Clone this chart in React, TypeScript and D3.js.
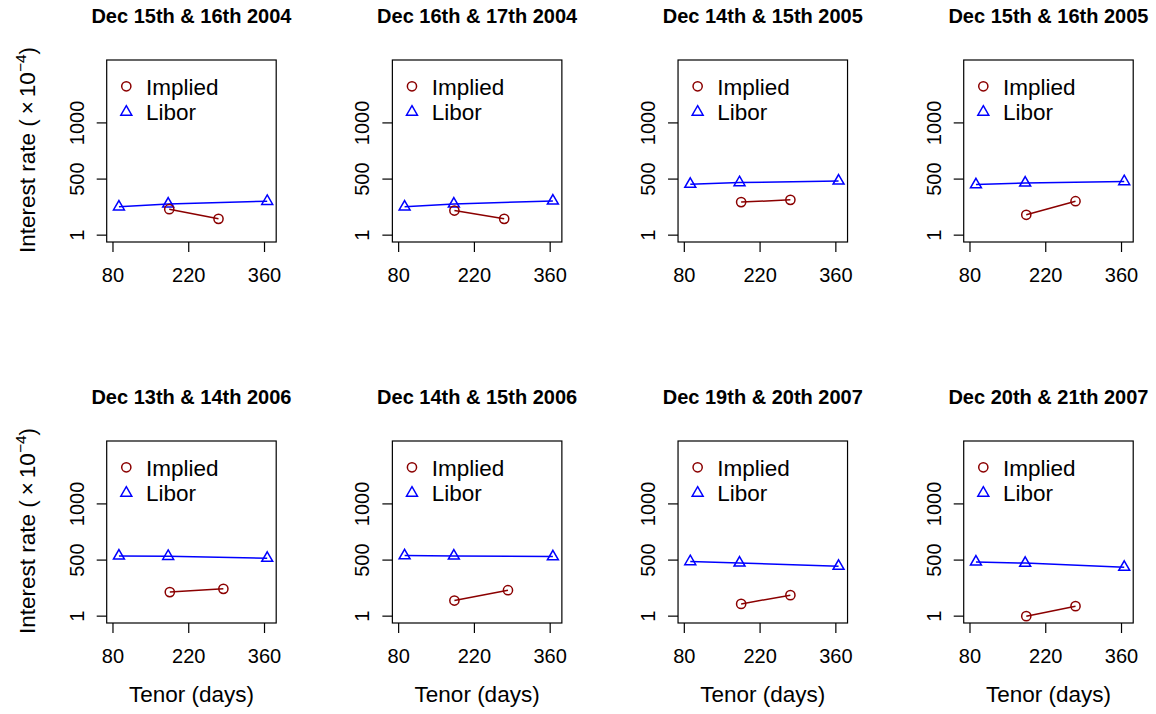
import React from "react";
import * as d3 from "d3";

const panelTitles = [
  "Dec 15th & 16th 2004",
  "Dec 16th & 17th 2004",
  "Dec 14th & 15th 2005",
  "Dec 15th & 16th 2005",
  "Dec 13th & 14th 2006",
  "Dec 14th & 15th 2006",
  "Dec 19th & 20th 2007",
  "Dec 20th & 21th 2007",
];
const liborTenor = [91, 182, 365];
const impliedTenor = [
  [184, 275],
  [183, 275],
  [185, 276],
  [184, 275],
  [185, 284],
  [183, 282],
  [185, 276],
  [184, 275],
];
const liborRates = [
  [253, 279, 303],
  [253, 279, 306],
  [455, 469, 484],
  [451, 466, 478],
  [537, 534, 517],
  [540, 537, 531],
  [487, 475, 446],
  [484, 473, 437],
];
const impliedRates = [
  [232, 146],
  [220, 146],
  [295, 315],
  [182, 303],
  [215, 244],
  [140, 232],
  [110, 188],
  [1, 90],
];
const xTicks = [80, 220, 360];
const yTicks = [1, 500, 1000];
const xDomain = [68.4, 381.6];
const yDomain = [-60, 1560];
const seriesNames = ["Implied", "Libor"];

const W = 1156;
const H = 714;
const colStep = 285.67;
const rowStep = 381;
const boxLeft0 = 106.7;
const boxTop0 = 60;
const boxW = 169.5;
const boxH = 182;
const FONT = "'Liberation Sans', Arial, Helvetica, sans-serif";
const RED = "#8B0000";
const BLUE = "#0000FF";
const LAB = 22.5;

const triPath = d3.symbol().type(d3.symbolTriangle).size(52)() as string;

function Panel({ idx }: { idx: number }) {
  const col = idx % 4;
  const row = Math.floor(idx / 4);
  const left = boxLeft0 + col * colStep;
  const top = boxTop0 + row * rowStep;
  const x = d3.scaleLinear().domain(xDomain).range([left, left + boxW]);
  const y = d3.scaleLinear().domain(yDomain).range([top + boxH, top]);
  const bottom = top + boxH;
  const libor = liborTenor.map((t, i) => [t, liborRates[idx][i]] as [number, number]);
  const implied = impliedTenor[idx].map((t, i) => [t, impliedRates[idx][i]] as [number, number]);
  const line = d3
    .line<[number, number]>()
    .x((d) => x(d[0]))
    .y((d) => y(d[1]));
  const cx = left + boxW / 2;
  return (
    <g>
      <text
        x={cx}
        y={top - 37}
        textAnchor="middle"
        fontWeight="bold"
        fontSize={20}
        fontFamily={FONT}
        fill="#000"
      >
        {panelTitles[idx]}
      </text>
      <rect x={left} y={top} width={boxW} height={boxH} fill="none" stroke="#000" strokeWidth={1.2} />
      {xTicks.map((t) => (
        <g key={"x" + t}>
          <line x1={x(t)} x2={x(t)} y1={bottom} y2={bottom + 10} stroke="#000" strokeWidth={1.2} />
          <text x={x(t)} y={bottom + 39.5} textAnchor="middle" fontSize={20} fontFamily={FONT}>
            {t}
          </text>
        </g>
      ))}
      {yTicks.map((t) => (
        <g key={"y" + t}>
          <line x1={left - 10} x2={left} y1={y(t)} y2={y(t)} stroke="#000" strokeWidth={1.2} />
          <text
            transform={`translate(${left - 23},${y(t)}) rotate(-90)`}
            textAnchor="middle"
            fontSize={20}
            fontFamily={FONT}
          >
            {t}
          </text>
        </g>
      ))}
      <path d={line(libor) as string} fill="none" stroke={BLUE} strokeWidth={1.5} />
      {libor.map((d, i) => (
        <path
          key={"l" + i}
          d={triPath}
          transform={`translate(${x(d[0])},${y(d[1])})`}
          fill="none"
          stroke={BLUE}
          strokeWidth={1.5}
        />
      ))}
      <path d={line(implied) as string} fill="none" stroke={RED} strokeWidth={1.5} />
      {implied.map((d, i) => (
        <circle key={"i" + i} cx={x(d[0])} cy={y(d[1])} r={4.6} fill="none" stroke={RED} strokeWidth={1.5} />
      ))}
      {/* legend */}
      <circle cx={left + 19.6} cy={top + 26.3} r={4.6} fill="none" stroke={RED} strokeWidth={1.5} />
      <text x={left + 39.3} y={top + 34.5} fontSize={LAB} fontFamily={FONT}>
        {seriesNames[0]}
      </text>
      <path
        d={triPath}
        transform={`translate(${left + 19.6},${top + 52})`}
        fill="none"
        stroke={BLUE}
        strokeWidth={1.5}
      />
      <text x={left + 39.3} y={top + 59.5} fontSize={LAB} fontFamily={FONT}>
        {seriesNames[1]}
      </text>
      {col === 0 && (
        <text
          transform={`translate(34.5,${top + boxH / 2 - 1}) rotate(-90)`}
          textAnchor="middle"
          fontSize={LAB}
          fontFamily={FONT}
        >
          <tspan>Interest rate (</tspan>
          <tspan dx={5}>×</tspan>
          <tspan dx={4}>10</tspan>
          <tspan fontSize={15.5} dy={-9}>−4</tspan>
          <tspan dy={9}>)</tspan>
        </text>
      )}
      {row === 1 && (
        <text x={cx} y={bottom + 79} textAnchor="middle" fontSize={LAB} fontFamily={FONT}>
          Tenor (days)
        </text>
      )}
    </g>
  );
}

export default function App() {
  return (
    <svg
      width={W}
      height={H}
      style={{ position: "absolute", left: 0, top: 0, background: "#fff" }}
    >
      <rect width={W} height={H} fill="#fff" />
      {panelTitles.map((_, i) => (
        <Panel key={i} idx={i} />
      ))}
    </svg>
  );
}
